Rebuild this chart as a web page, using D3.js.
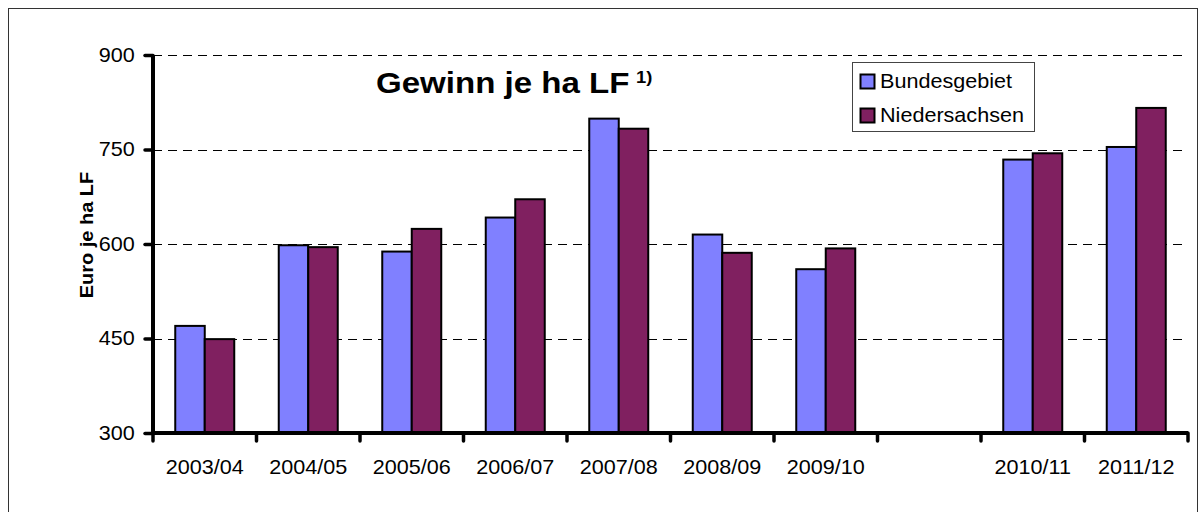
<!DOCTYPE html>
<html>
<head>
    <meta charset="utf-8">
    <title>Gewinn je ha LF</title>
    <style>
        body, html {
            margin: 0;
            padding: 0;
            width: 100%;
            height: 100%;
            overflow: hidden;
            background: #fff;
        }
        svg text {
            font-family: "Liberation Sans", Arial, sans-serif;
            fill: #000;
        }
    </style>
    <script src="https://d3js.org/d3.v7.min.js"></script>
</head>
<body>

<svg id="chart" width="1200" height="512"></svg>

<script>
// data (one empty slot between 2009/10 and 2010/11)
const categories = ['2003/04', '2004/05', '2005/06', '2006/07', '2007/08', '2008/09', '2009/10', ' ', '2010/11', '2011/12'];
const bundesgebiet = [470, 598, 588, 642, 799, 615, 560, null, 734, 754];
const niedersachsen = [449, 595, 624, 671, 783, 586, 593, null, 744, 816];
const seriesNames = ['Bundesgebiet', 'Niedersachsen'];
const yTicks = [300, 450, 600, 750, 900];

const colors = ['#8080ff', '#802060'];
const stretch = 1.08;   // text in the original is a bit wider than Arial

const svg = d3.select('#chart');
const plotLeft = 153, plotRight = 1188, plotTop = 55, plotBottom = 433;

// outer frame
svg.append('rect')
    .attr('x', 8.5).attr('y', 8.5)
    .attr('width', 1189).attr('height', 600)
    .attr('fill', 'none')
    .attr('stroke', '#333')
    .attr('stroke-width', 1);

const x0 = d3.scaleBand()
    .domain(categories)
    .range([plotLeft, plotRight])
    .paddingInner(0.43)
    .paddingOuter(0.215);

const x1 = d3.scaleBand()
    .domain(seriesNames)
    .range([0, x0.bandwidth()]);

const y = d3.scaleLinear()
    .domain([300, 900])
    .range([plotBottom, plotTop]);

// dashed grid
svg.append('g')
    .selectAll('line')
    .data(yTicks.slice(1))
    .enter().append('line')
    .attr('x1', plotLeft).attr('x2', plotRight)
    .attr('y1', d => Math.round(y(d)) + 0.5)
    .attr('y2', d => Math.round(y(d)) + 0.5)
    .attr('stroke', '#000')
    .attr('stroke-width', 1)
    .attr('stroke-dasharray', '9,6');

// bars
const rows = categories.map((c, i) => ({cat: c, vals: [bundesgebiet[i], niedersachsen[i]]}));

const groups = svg.append('g')
    .selectAll('g')
    .data(rows.filter(r => r.vals[0] != null))
    .enter().append('g')
    .attr('transform', d => `translate(${x0(d.cat)},0)`);

groups.selectAll('rect')
    .data(d => d.vals.map((v, j) => ({name: seriesNames[j], value: v, j: j})))
    .enter().append('rect')
    .attr('x', d => x1(d.name))
    .attr('y', d => y(d.value))
    .attr('width', x1.bandwidth())
    .attr('height', d => y(300) - y(d.value))
    .attr('fill', d => colors[d.j])
    .attr('stroke', '#000')
    .attr('stroke-width', 2);

// y axis
const yAxis = svg.append('g')
    .attr('transform', `translate(${plotLeft},0)`)
    .call(d3.axisLeft(y).tickValues(yTicks).tickSize(8).tickPadding(9));

yAxis.select('.domain')
    .attr('stroke-width', 4)
    .attr('d', `M0,${plotTop}V${plotBottom}`);
yAxis.selectAll('.tick line')
    .attr('stroke-width', 3.5)
    .attr('stroke-linecap', 'round');
yAxis.selectAll('.tick text')
    .style('font-size', '20px')
    .attr('transform', `scale(${stretch},1)`);

// x axis with ticks on band boundaries
const xAxis = svg.append('g')
    .attr('transform', `translate(0,${plotBottom})`);

xAxis.append('line')
    .attr('x1', plotLeft).attr('x2', plotRight)
    .attr('stroke', '#000')
    .attr('stroke-width', 4);

const boundaries = categories.map(c => x0(c) - x0.step() * x0.paddingOuter())
    .concat([plotRight]);

xAxis.selectAll('.xtick')
    .data(boundaries)
    .enter().append('line')
    .attr('class', 'xtick')
    .attr('x1', d => d).attr('x2', d => d)
    .attr('y1', 0).attr('y2', 8)
    .attr('stroke', '#000')
    .attr('stroke-width', 3.5)
    .attr('stroke-linecap', 'round');

xAxis.selectAll('.xlabel')
    .data(categories)
    .enter().append('text')
    .attr('class', 'xlabel')
    .attr('transform', d => `translate(${x0(d) + x0.bandwidth() / 2},41) scale(${stretch},1)`)
    .attr('text-anchor', 'middle')
    .style('font-size', '20px')
    .text(d => d.trim());

// y axis title
svg.append('text')
    .attr('transform', `translate(92.5,235) rotate(-90) scale(${stretch},1)`)
    .attr('text-anchor', 'middle')
    .style('font-size', '18.5px')
    .style('font-weight', 'bold')
    .text('Euro je ha LF');

// chart title
svg.append('text')
    .attr('transform', 'translate(376,93) scale(1.14,1)')
    .style('font-size', '29px')
    .style('font-weight', 'bold')
    .text('Gewinn je ha LF');

svg.append('text')
    .attr('transform', 'translate(636,83) scale(1.08,1)')
    .style('font-size', '17px')
    .style('font-weight', 'bold')
    .text('1)');

// legend
const legend = svg.append('g')
    .attr('transform', 'translate(852,62)');

legend.append('rect')
    .attr('x', 0.5).attr('y', 0.5)
    .attr('width', 182).attr('height', 69)
    .attr('fill', '#fff')
    .attr('stroke', '#444')
    .attr('stroke-width', 1);

const item = legend.selectAll('.item')
    .data(seriesNames)
    .enter().append('g')
    .attr('class', 'item')
    .attr('transform', (d, i) => `translate(0,${12 + i * 34})`);

item.append('rect')
    .attr('x', 8.5).attr('y', 0.5)
    .attr('width', 14).attr('height', 14)
    .attr('fill', (d, i) => colors[i])
    .attr('stroke', '#000')
    .attr('stroke-width', 2);

item.append('text')
    .attr('transform', `translate(28,14) scale(${stretch},1)`)
    .style('font-size', '20px')
    .text(d => d);
</script>

</body>
</html>
